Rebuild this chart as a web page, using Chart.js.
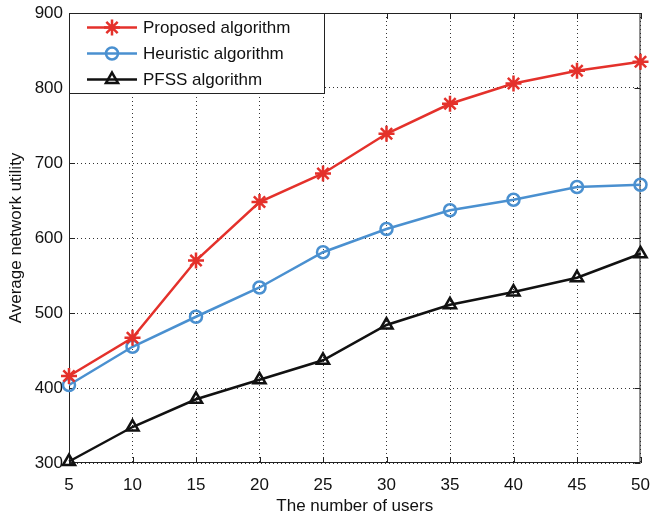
<!DOCTYPE html>
<html>
<head>
<meta charset="utf-8">
<script src="https://cdn.jsdelivr.net/npm/chart.js@4"></script>
<style>
  html, body { margin: 0; padding: 0; background: #fff; }
  #wrap { width: 651px; height: 517px; }
</style>
</head>
<body>
<div id="wrap"><canvas id="chart" width="651" height="517"></canvas></div>
<script>
// number of users
const users = [5, 10, 15, 20, 25, 30, 35, 40, 45, 50];
const proposed = [416, 467, 570, 648, 686, 739, 779, 806, 823, 835];
const heuristic = [404, 455, 495, 534, 581, 612, 637, 651, 668, 671];
const pfss = [302, 348, 385, 411, 437, 484, 511, 528, 547, 579];
const yTicks = [300, 400, 500, 600, 700, 800, 900];

const FONT = 'Liberation Sans, Arial, Helvetica, sans-serif';

function pts(ys) {
  return users.map((x, i) => ({ x: x, y: ys[i] }));
}

// box around plot, small inward ticks, legend in the upper left corner
const frameAndLegend = {
  id: 'frameAndLegend',
  beforeDatasetsDraw(chart) {
    const { ctx, chartArea: a, scales } = chart;
    ctx.save();
    ctx.strokeStyle = '#222';
    ctx.lineWidth = 1;
    ctx.strokeRect(a.left + 0.5, a.top + 0.5, a.right - a.left - 1, a.bottom - a.top - 1);
    ctx.beginPath();
    users.forEach(v => {
      const x = Math.round(scales.x.getPixelForValue(v)) + 0.5;
      ctx.moveTo(x, a.bottom); ctx.lineTo(x, a.bottom - 6);
      ctx.moveTo(x, a.top); ctx.lineTo(x, a.top + 6);
    });
    yTicks.forEach(v => {
      const y = Math.round(scales.y.getPixelForValue(v)) + 0.5;
      ctx.moveTo(a.left, y); ctx.lineTo(a.left + 6, y);
      ctx.moveTo(a.right, y); ctx.lineTo(a.right - 6, y);
    });
    ctx.stroke();
    ctx.restore();
  },
  afterDraw(chart) {
    const { ctx, chartArea: a } = chart;
    ctx.save();
    const lx = a.left, ly = a.top, lw = 255, lh = 80;
    ctx.fillStyle = '#fff';
    ctx.fillRect(lx, ly, lw, lh);
    ctx.strokeStyle = '#222';
    ctx.lineWidth = 1;
    ctx.strokeRect(lx + 0.5, ly + 0.5, lw, lh);
    const rows = [27.5, 53.5, 79.5];
    chart.data.datasets.forEach((ds, i) => {
      const y = rows[i];
      ctx.strokeStyle = ds.borderColor;
      ctx.lineWidth = ds.borderWidth;
      ctx.beginPath();
      ctx.moveTo(87, y);
      ctx.lineTo(137, y);
      ctx.stroke();
      ctx.fillStyle = 'rgba(0,0,0,0)';
      Chart.helpers.drawPoint(ctx, {
        pointStyle: ds.pointStyle,
        radius: ds.pointRadius,
        borderWidth: ds.pointBorderWidth
      }, 112, y);
      ctx.fillStyle = '#111';
      ctx.font = '17px ' + FONT;
      ctx.textBaseline = 'middle';
      ctx.fillText(ds.label, 143, y + 1);
    });
    ctx.restore();
  }
};

const gridOpts = { color: '#333', drawTicks: false, lineWidth: 1 };
const borderOpts = { display: false, dash: [1, 3] };

new Chart(document.getElementById('chart'), {
  type: 'line',
  data: {
    datasets: [
      {
        label: 'Proposed algorithm',
        data: pts(proposed),
        borderColor: '#e4312b',
        borderWidth: 2.5,
        pointStyle: 'star',
        pointRadius: 8,
        pointBorderWidth: 2.5,
        pointBackgroundColor: 'rgba(0,0,0,0)',
        pointBorderColor: '#e4312b',
        clip: false
      },
      {
        label: 'Heuristic algorithm',
        data: pts(heuristic),
        borderColor: '#4a90d0',
        borderWidth: 2.5,
        pointStyle: 'circle',
        pointRadius: 6,
        pointBorderWidth: 2.5,
        pointBackgroundColor: 'rgba(0,0,0,0)',
        pointBorderColor: '#4a90d0',
        clip: false
      },
      {
        label: 'PFSS algorithm',
        data: pts(pfss),
        borderColor: '#111',
        borderWidth: 2.5,
        pointStyle: 'triangle',
        pointRadius: 7,
        pointBorderWidth: 2.5,
        pointBackgroundColor: 'rgba(0,0,0,0)',
        pointBorderColor: '#111',
        clip: false
      }
    ]
  },
  options: {
    responsive: false,
    animation: false,
    layout: { padding: { top: 13, right: 10, left: 0, bottom: 0 } },
    plugins: {
      legend: { display: false },
      tooltip: { enabled: false }
    },
    scales: {
      x: {
        type: 'linear',
        min: 5,
        max: 50,
        afterBuildTicks: s => { s.ticks = users.map(v => ({ value: v })); },
        afterFit: s => { s.height = 54; s.paddingLeft = 0; s.paddingRight = 0; },
        border: borderOpts,
        grid: gridOpts,
        ticks: { color: '#111', font: { family: FONT, size: 17 }, padding: 12, maxRotation: 0 },
        title: { display: true, text: 'The number of users', color: '#111', font: { family: FONT, size: 17 }, padding: { top: 2, bottom: 0 } }
      },
      y: {
        min: 300,
        max: 900,
        afterBuildTicks: s => { s.ticks = yTicks.map(v => ({ value: v })); },
        afterFit: s => { s.width = 69; s.paddingTop = 0; s.paddingBottom = 0; },
        border: borderOpts,
        grid: gridOpts,
        ticks: { color: '#111', font: { family: FONT, size: 17 }, padding: 6 },
        title: { display: true, text: 'Average network utility', color: '#111', font: { family: FONT, size: 17 }, padding: { top: 6, bottom: 4 } }
      }
    }
  },
  plugins: [frameAndLegend]
});
</script>
</body>
</html>
